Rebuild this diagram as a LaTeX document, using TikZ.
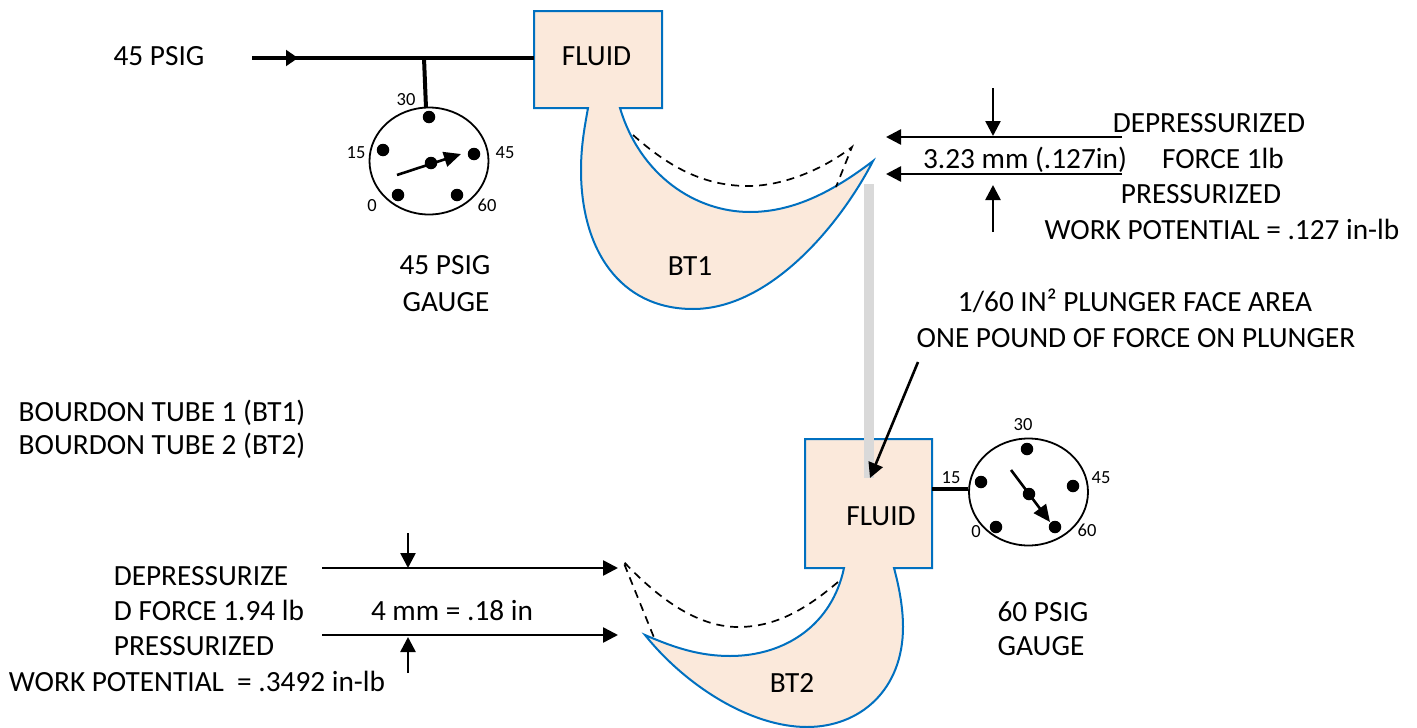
\documentclass[tikz,border=0pt]{standalone}
\usepackage{fontspec}
\setmainfont{Carlito}
\usetikzlibrary{arrows.meta,shapes.geometric}
\definecolor{fluidfill}{HTML}{FBE9DB}
\definecolor{tubeblue}{HTML}{0070C0}
\definecolor{plunger}{HTML}{D9D9D9}
\tikzset{
  x=1pt,y=-1pt,
  txt/.style={font=\fontsize{29.3}{29.3}\selectfont,inner sep=0pt,anchor=base,yshift=-1pt},
  small/.style={font=\fontsize{18.5}{18.5}\selectfont,inner sep=0pt,anchor=base,yshift=-1pt},
  tube/.style={draw=tubeblue,line width=2pt,fill=fluidfill,line join=miter},
  dashline/.style={draw=black,line width=1.7pt,dash pattern=on 8pt off 6pt},
  pipe/.style={draw=black,line width=4pt},
  dim/.style={draw=black,line width=2.6pt,-{Triangle[length=15pt,width=15pt]}},
  gaugeface/.style={draw=black,line width=1.8pt,fill=white,ellipse,minimum width=119pt,minimum height=107pt,inner sep=0pt},
  pin/.style={circle,fill=black,minimum size=12.5pt,inner sep=0pt},
  needle/.style={draw=black,line width=2.6pt,-{Triangle[length=17pt,width=15pt]}},
}
\begin{document}
\begin{tikzpicture}
\useasboundingbox (0,0) rectangle (1417,728);
% ---- BT1 tube and box
\path[tube] (534,11) -- (662,11) -- (662,108) -- (620,108)
  .. controls (640,175) and (695,212) .. (750,212)
  .. controls (795,212) and (835,190) .. (873,161)
  .. controls (840,225) and (770,309) .. (693,309)
  .. controls (620,309) and (581,250) .. (581,170)
  .. controls (581,145) and (585,125) .. (588,108)
  -- (534,108) -- cycle;
\node[txt] (fluidA) at (596.5,64) {FLUID};
\node[txt] (btA) at (690,274) {BT1};
\draw[dashline] (633,135) .. controls (670,168) and (705,186) .. (748,186)
  .. controls (785,186) and (825,168) .. (852,147) -- (836,187);
% ---- BT2 tube and box
\path[tube] (805,439) -- (932,439) -- (932,568) -- (894,568)
  .. controls (900,590) and (903,610) .. (903,627)
  .. controls (903,690) and (860,727) .. (807,727)
  .. controls (750,727) and (685,685) .. (645,635)
  .. controls (675,648) and (700,656) .. (730,656)
  .. controls (785,656) and (832,625) .. (844,568)
  -- (805,568) -- cycle;
\fill[plunger] (864,184) rectangle (874,478);
\node[txt] (fluidB) at (881,524) {FLUID};
\node[txt] (btB) at (792,691) {BT2};
\draw[dashline] (838,582) .. controls (805,610) and (775,627) .. (738,627)
  .. controls (695,627) and (655,595) .. (623,561) -- (655,640);
% ---- supply line
\coordinate (supplyS) at (252,58);
\coordinate (supplyM) at (298,58);
\coordinate (teeT) at (424,58);
\coordinate (teeB) at (426,108);
\coordinate (fluidAW) at (534,58);
\draw[pipe] (supplyS) -- (fluidAW);
\draw[draw=black,line width=2pt,-{Triangle[length=12pt,width=16pt]}] (280,58) -- (supplyM);
% ---- gauge 1
\node[gaugeface] (g1) at (429,161) {};
\draw[pipe] (teeT) -- (teeB);
\node[pin] (g1a) at (429,117) {};
\node[pin] (g1b) at (383,150) {};
\node[pin] (g1c) at (474,154) {};
\node[pin] (g1d) at (398,195) {};
\node[pin] (g1e) at (457,195) {};
\node[pin] (g1f) at (431,163) {};
\coordinate (n1s) at (397,175);
\coordinate (n1e) at (461,154);
\draw[needle] (n1s) -- (n1e);
\node[small] at (406,104) {30};
\node[small] at (356,157) {15};
\node[small] at (505,157) {45};
\node[small] at (372,210) {0};
\node[small] at (487,210) {60};
% ---- gauge 2
\node[gaugeface] (g2) at (1028.5,492) {};
\coordinate (fluidBE) at (932,489);
\draw[pipe] (fluidBE) -- (g2.west |- fluidBE);
\node[pin] (g2a) at (1027,449) {};
\node[pin] (g2b) at (981,482) {};
\node[pin] (g2c) at (1073,486) {};
\node[pin] (g2d) at (996,527) {};
\node[pin] (g2e) at (1055,527) {};
\node[pin] (g2f) at (1029,494) {};
\coordinate (n2s) at (1011,470);
\coordinate (n2e) at (1050,522);
\draw[needle] (n2s) -- (n2e);
\node[small] at (1023,429) {30};
\node[small] at (951,482) {15};
\node[small] at (1101,482) {45};
\node[small] at (976,536) {0};
\node[small] at (1087,535) {60};
% ---- dimension arrows top
\coordinate (d1a) at (1122,137); \coordinate (d1b) at (886,137);
\coordinate (d2a) at (1122,174); \coordinate (d2b) at (886,174);
\coordinate (v1a) at (993,88);   \coordinate (v1b) at (993,136);
\coordinate (v2a) at (993,232);  \coordinate (v2b) at (993,185);
\draw[dim] (d1a) -- (d1b);
\draw[dim] (d2a) -- (d2b);
\draw[dim] (v1a) -- (v1b);
\draw[dim] (v2a) -- (v2b);
% ---- dimension arrows bottom
\coordinate (d3a) at (322,568); \coordinate (d3b) at (618,568);
\coordinate (d4a) at (322,635); \coordinate (d4b) at (618,635);
\coordinate (v3a) at (408,533); \coordinate (v3b) at (408,568);
\coordinate (v4a) at (408,673); \coordinate (v4b) at (408,637);
\draw[dim] (d3a) -- (d3b);
\draw[dim] (d4a) -- (d4b);
\draw[dim] (v3a) -- (v3b);
\draw[dim] (v4a) -- (v4b);
% ---- plunger leader
\coordinate (la) at (918,362); \coordinate (lb) at (870,478);
\draw[dim] (la) -- (lb);
% ---- texts
\node[txt] at (159,64) {45 PSIG};
\node[txt] at (445,273) {45 PSIG};
\node[txt] at (446,310) {GAUGE};
\node[txt] at (1209,131) {DEPRESSURIZED};
\node[txt] at (1223,167) {FORCE 1lb};
\node[txt] at (1201,202) {PRESSURIZED};
\node[txt] at (1222,238) {WORK POTENTIAL = .127 in-lb};
\node[txt] at (1025,167) {3.23 mm (.127in)};
\node[txt] at (1135,310) {1/60 IN² PLUNGER FACE AREA};
\node[txt] at (1136,346) {ONE POUND OF FORCE ON PLUNGER};
\node[txt] at (162,420) {BOURDON TUBE 1 (BT1)};
\node[txt] at (162,453) {BOURDON TUBE 2 (BT2)};
\node[txt] at (201,584) {DEPRESSURIZE};
\node[txt] at (209,619) {D FORCE 1.94 lb};
\node[txt] at (194,654) {PRESSURIZED};
\node[txt] at (197,690) {WORK POTENTIAL\ \ = .3492 in-lb};
\node[txt] at (452,619) {4 mm = .18 in};
\node[txt] at (1043,620) {60 PSIG};
\node[txt] at (1041,654) {GAUGE};
\end{tikzpicture}
\end{document}
